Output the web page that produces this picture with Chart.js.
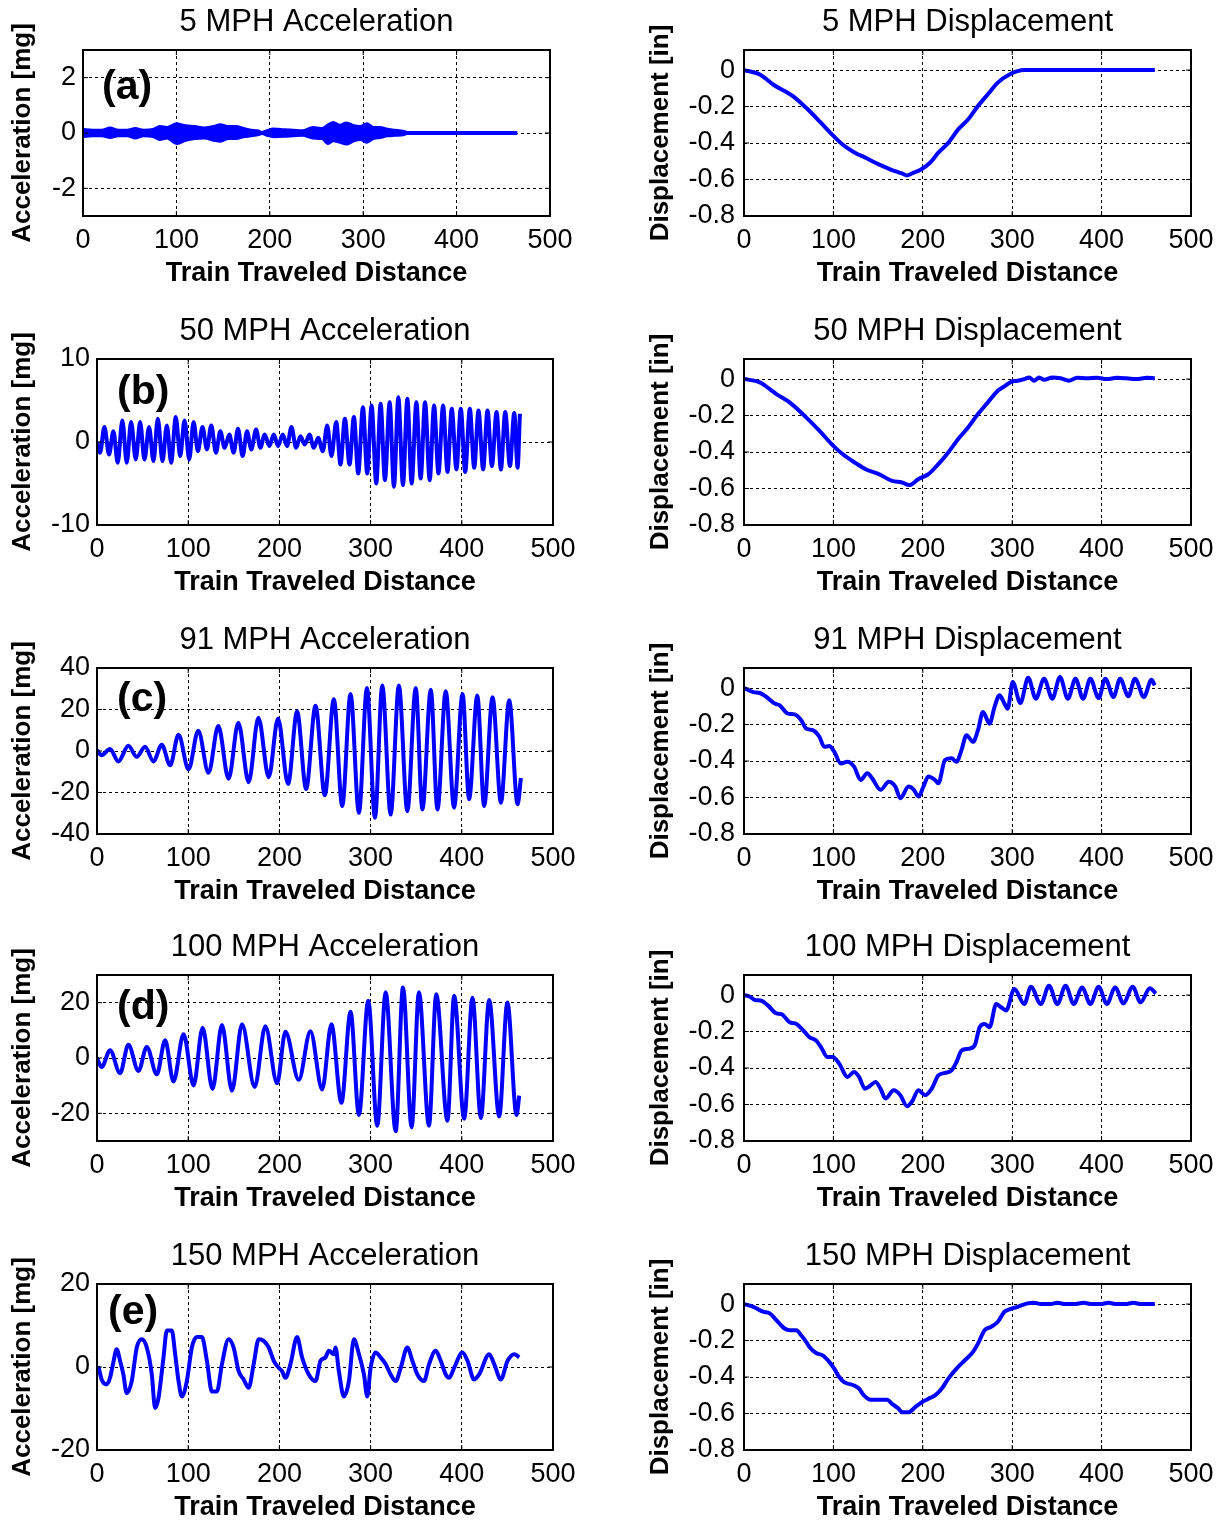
<!DOCTYPE html>
<html>
<head>
<meta charset="utf-8">
<script src="https://cdn.jsdelivr.net/npm/chart.js@4.4.0/dist/chart.umd.min.js"></script>
<style>
  html, body { margin: 0; padding: 0; background: #fff; overflow: hidden; }
  #page { position: relative; width: 1224px; height: 1521px; }
  .cell { position: absolute; width: 612px; height: 300px; }
</style>
</head>
<body>
<div id="page"></div>
<script>
// ---- tick values ----
const xTicks = [0, 100, 200, 300, 400, 500];
const dispTicks = [-0.8, -0.6, -0.4, -0.2, 0];
const acc5Ticks = [-2, 0, 2];
const acc50Ticks = [-10, 0, 10];
const acc91Ticks = [-40, -20, 0, 20, 40];
const acc100Ticks = [-20, 0, 20];
const acc150Ticks = [-20, 0, 20];

// ---- 5 MPH acceleration: dense band, kept as upper / lower envelope ----
const acc5X = [0, 10, 20, 29, 38, 47, 56, 65, 75, 82, 90, 100, 110, 120, 130, 140, 147, 156, 164, 172,
  180, 187, 192, 197, 204, 215, 225, 235, 246, 256, 262, 268, 275, 282, 290, 297, 304, 311, 318, 326,
  334, 343, 347, 465];
const acc5Upper = [0.15, 0.12, 0.12, 0.2, 0.12, 0.12, 0.18, 0.12, 0.15, 0.25, 0.22, 0.35, 0.28, 0.25, 0.2, 0.25, 0.32, 0.25, 0.25, 0.18,
  0.12, 0.1, 0.04, 0.1, 0.16, 0.14, 0.12, 0.1, 0.22, 0.18, 0.3, 0.4, 0.3, 0.38, 0.28, 0.25, 0.35, 0.22, 0.22, 0.15,
  0.12, 0.08, 0.04, 0.04];
const acc5Lower = [-0.15, -0.12, -0.12, -0.18, -0.12, -0.12, -0.2, -0.12, -0.15, -0.25, -0.2, -0.4, -0.28, -0.22, -0.2, -0.28, -0.32, -0.22, -0.22, -0.15,
  -0.12, -0.08, -0.04, -0.1, -0.15, -0.14, -0.12, -0.1, -0.2, -0.22, -0.4, -0.3, -0.35, -0.42, -0.3, -0.25, -0.35, -0.22, -0.18, -0.12,
  -0.1, -0.08, -0.04, -0.04];

// ---- 50 MPH acceleration (peaks / troughs) ----
const acc50X = [0, 3.3, 8.1, 13.2, 18.0, 22.7, 27.8, 32.6, 37.4, 42.5, 47.3, 52.0, 57.1, 61.9, 66.7, 71.8, 76.6, 81.3, 86.4, 91.2,
  96.0, 101.1, 105.9, 110.6, 115.7, 120.5, 125.3, 130.4, 135.2, 139.9, 145.1, 149.8, 154.6, 159.7, 164.5, 169.2, 174.4, 179.1, 183.9, 189.0,
  193.8, 198.5, 203.7, 208.4, 213.2, 218.3, 223.1, 227.8, 233.0, 237.7, 242.5, 247.6, 252.4, 257.1, 262.3, 267.0, 271.8, 276.9, 281.7, 286.4,
  291.6, 296.3, 301.1, 306.2, 311.0, 315.7, 320.9, 325.6, 330.4, 335.5, 340.3, 345.0, 350.2, 354.9, 359.7, 364.8, 369.6, 374.4, 379.5, 384.3,
  389.0, 394.1, 398.9, 403.7, 408.8, 413.6, 418.3, 423.4, 428.2, 433.0, 438.1, 442.9, 447.6, 452.8, 457.5, 461.2, 463.7];
const acc50Y = [0, -1.3, 1.8, -1.5, 1.3, -2.5, 2.6, -2.5, 2.4, -2.1, 2.4, -2.1, 1.8, -2.3, 2.8, -2.3, 2.0, -2.5, 3.0, -1.7,
  2.6, -2.1, 2.4, -1.1, 1.8, -0.9, 2.0, -1.3, 1.3, -0.7, 0.9, -1.3, 1.6, -1.7, 1.3, -0.9, 1.5, -0.7, 0.9, -0.5,
  0.9, -0.5, 0.9, -0.5, 1.8, -0.7, 0.7, -0.3, 0.9, -0.7, 0.5, -1.1, 2.0, -1.7, 2.4, -2.7, 2.8, -2.7, 3.0, -3.8,
  4.2, -3.8, 4.4, -5.0, 4.6, -4.6, 4.8, -5.4, 5.4, -5.2, 5.2, -5.0, 4.8, -4.4, 4.8, -4.6, 4.4, -3.8, 4.4, -3.6,
  4.0, -3.3, 4.0, -3.6, 4.0, -3.1, 3.8, -3.3, 3.8, -2.9, 3.6, -3.3, 3.6, -2.9, 3.5, -3.1, 3.4];

// ---- 91 MPH acceleration ----
const acc91X = [0, 5, 14.3, 23.4, 34.4, 43.6, 52.7, 61.9, 71, 80.2, 89.4, 100.4, 111, 122.3, 133, 144.3, 155, 166.3, 177, 188.3,
  198.5, 209.5, 219.4, 229.3, 239.6, 249.8, 259.7, 268.9, 278, 287.2, 296, 304.8, 312.8, 322, 331, 340.3, 349.5, 356.8, 366, 373.3,
  382.4, 391.5, 400.8, 408, 417, 424.5, 433.7, 442.9, 452, 461.2, 464.8];
const acc91Y = [0.5, -2, 1, -5, 2.5, -2.8, 2, -5, 3, -6.9, 7.8, -8.8, 9.8, -10.5, 12, -13.4, 13.6, -15, 16, -12.6,
  15.7, -15.9, 19, -18.3, 21.8, -21.3, 25, -26.5, 27.5, -29.8, 30.4, -32.2, 31.6, -30.6, 31.6, -29, 30.4, -28.2, 29.5, -28.2,
  28.8, -27.3, 27.5, -23.2, 26.7, -26.5, 25.9, -24.9, 24.5, -25.7, -13];

// ---- 100 MPH acceleration ----
const acc100X = [0, 5.1, 14.3, 25.3, 34.4, 45.4, 54.6, 65.6, 74.7, 83.9, 94.9, 105.9, 115.8, 126.7, 137, 148, 159, 172.9, 184.6, 197.5,
  206.6, 221.2, 234, 246.9, 257, 268, 278, 287.2, 297.4, 307.3, 316.5, 327.5, 335.5, 345, 353, 364, 372, 384.3, 391.6, 402.6,
  411.7, 420.9, 430, 441, 450, 460, 463];
const acc100Y = [0, -3.3, 2.8, -5.5, 4.8, -4.7, 4, -5.9, 6.4, -8.5, 8.6, -9.9, 10.9, -11.2, 11.9, -11.8, 12.2, -10.5, 11.5, -9.1,
  9.5, -7.9, 9.7, -11.4, 12.2, -16.2, 16.7, -20.6, 20.7, -24.5, 23.8, -26.5, 25.5, -25.1, 23.8, -24.5, 23, -22.7, 22.5, -22,
  21.8, -21.7, 21, -21.1, 20.1, -20.6, -13.6];

// ---- 150 MPH acceleration ----
const acc150X = [1.5, 5.1, 10.6, 14.3, 17.9, 21.6, 25.3, 28.9, 32.6, 38.1, 43.6, 49.1, 54.6, 60.1, 63.7, 67.4, 72.9, 76.6, 82.0, 85.7,
  89.4, 93.0, 98.5, 104.0, 109.5, 115.0, 120.5, 126.0, 131.5, 137.0, 144.3, 149.8, 155.3, 160.8, 166.3, 171.8, 177.3, 182.8, 188.3, 193.8,
  199.3, 202.9, 206.6, 212.1, 219.4, 224.9, 232.2, 239.6, 245.1, 250.5, 254.2, 259.7, 261.5, 265.2, 270.7, 276.2, 281.7, 287.2, 292.7, 296.3,
  300.0, 305.5, 311.0, 316.5, 322.0, 327.5, 333.0, 340.3, 345.8, 351.3, 358.6, 364.1, 371.4, 376.9, 382.4, 386.1, 391.6, 400.7, 406.2, 413.5,
  419.0, 430.0, 435.5, 442.8, 450.2, 457.5, 463.0];
const acc150Y = [0.2, -3.0, -4.2, -2.6, 1.1, 4.3, 1.5, -1.8, -6.3, -3.4, 4.7, 6.7, 4.7, -1.8, -9.9, -7.5, 2.3, 8.8, 8.8, 3.1,
  -3.4, -7.1, -3.4, 4.7, 7.2, 7.2, 1.5, -5.9, -5.9, 0.7, 6.7, 4.7, -1.0, -3.0, -5.0, 0.7, 6.7, 6.3, 4.7, 1.5,
  -0.2, -1.0, -2.6, 0.7, 7.2, 2.3, -1.8, -3.4, 1.5, 2.3, 3.9, 3.1, 4.7, -1.0, -7.1, -3.4, 6.7, 3.1, -1.8, -7.1,
  -0.2, 3.5, 2.3, 0.7, -1.8, -3.4, -0.2, 4.7, 1.5, -1.8, -3.4, 0.7, 3.9, 1.5, -1.8, -2.6, -0.2, 3.5, 1.5, -3.0,
  -1.8, 3.1, 0.7, -3.0, 1.5, 3.1, 2.3];

// ---- displacements ----
const disp5X = [0, 17.7, 32.5, 54.7, 69.5, 84.3, 97.2, 110.2, 123.1, 136.0, 150.8, 165.6, 176.7, 182.3, 187.8, 197, 208.1, 217.4, 228.5, 239.6,
  250.6, 261.7, 272.8, 283.9, 296.9, 313.5, 459.5];
const disp5Y = [0, -0.024, -0.079, -0.143, -0.207, -0.28, -0.347, -0.408, -0.45, -0.481, -0.517, -0.548, -0.567, -0.578, -0.567, -0.548, -0.508, -0.453, -0.399, -0.325,
  -0.271, -0.197, -0.133, -0.069, -0.024, 0, 0];

const disp50X = [0, 17.7, 28.8, 36.2, 51, 69.5, 84.3, 99.1, 110.2, 125, 136, 150.8, 165.6, 176.7, 184.8, 195.2, 206.3, 217.4, 228.5, 239.6,
  250.6, 261.7, 272.8, 283.9, 291.3, 298.7, 306.1, 313.5, 319, 324.6, 330.1, 335.7, 344.9, 354.2, 363.4, 372.6, 383.7, 394.8, 405.9, 417,
  428.1, 439.2, 450.3, 459.5];
const disp50Y = [0, -0.018, -0.055, -0.082, -0.128, -0.21, -0.283, -0.362, -0.411, -0.461, -0.494, -0.521, -0.558, -0.567, -0.581, -0.548, -0.521, -0.466, -0.402, -0.329,
  -0.265, -0.192, -0.128, -0.064, -0.04, -0.015, -0.009, 0, 0.009, -0.009, 0.009, -0.004, 0.009, 0.004, -0.009, 0.007, 0.004, 0.007, 0, 0.007,
  0.004, 0, 0.007, 0.004];

const disp91X = [0, 10.4, 17.7, 25.1, 34.4, 39.9, 49.2, 56.6, 64.0, 69.5, 76.9, 84.3, 89.8, 95.4, 100.9, 108.3, 115.7, 123.1, 130.5, 137.9,
  143.4, 152.7, 162.0, 169.3, 174.9, 184.1, 189.6, 195.2, 200.7, 206.3, 213.7, 217.4, 224.8, 232.2, 237.7, 243.3, 248.8, 256.2, 261.7, 267.3,
  274.7, 280.2, 285.8, 291.3, 295.0, 300.6, 309.1, 317.9, 326.4, 335.7, 344.9, 353.4, 362.3, 370.8, 379.3, 387.4, 396.7, 404.1, 413.3, 420.7,
  429.9, 437.3, 447.3, 455.8, 459.5];
const disp91Y = [0, -0.022, -0.027, -0.049, -0.085, -0.095, -0.14, -0.144, -0.176, -0.222, -0.231, -0.267, -0.322, -0.318, -0.349, -0.413, -0.404, -0.431, -0.504, -0.467,
  -0.495, -0.558, -0.513, -0.54, -0.604, -0.54, -0.555, -0.595, -0.54, -0.485, -0.504, -0.522, -0.395, -0.385, -0.404, -0.34, -0.258, -0.295, -0.231, -0.131,
  -0.195, -0.104, -0.04, -0.085, -0.113, 0.033, -0.082, 0.056, -0.058, 0.051, -0.058, 0.06, -0.058, 0.051, -0.058, 0.051, -0.055, 0.051, -0.049, 0.051,
  -0.045, 0.051, -0.049, 0.045, 0.015];

const disp100X = [0, 6.7, 12.2, 19.6, 27, 36.2, 41.8, 51, 58.4, 65.8, 73.2, 80.6, 86.1, 93.5, 99.1, 106.5, 115.7, 123.1, 128.7, 135.3,
  141.6, 147.1, 152.7, 158.2, 167.5, 174.9, 182.3, 187.8, 195.2, 202.6, 210, 217.4, 224.8, 232.2, 237.7, 243.3, 250.6, 258, 263.6, 269.1,
  274.7, 282.1, 287.6, 293.2, 302.4, 313.5, 320.9, 332, 341.2, 350.5, 359.7, 368.9, 378.2, 387.4, 396.7, 405.9, 415.2, 424.4, 434.8, 443.6,
  454, 460.6];
const disp100Y = [0, -0.009, -0.027, -0.031, -0.058, -0.1, -0.104, -0.149, -0.158, -0.191, -0.231, -0.249, -0.285, -0.34, -0.34, -0.376, -0.449, -0.422, -0.449, -0.513,
  -0.495, -0.476, -0.513, -0.567, -0.522, -0.549, -0.609, -0.585, -0.522, -0.549, -0.513, -0.44, -0.427, -0.413, -0.367, -0.304, -0.295, -0.276, -0.176, -0.158,
  -0.176, -0.049, -0.067, -0.085, 0.033, -0.049, 0.045, -0.049, 0.051, -0.049, 0.051, -0.049, 0.042, -0.049, 0.045, -0.049, 0.042, -0.045, 0.045, -0.04,
  0.038, 0.009];

const disp150X = [0, 10.4, 21.4, 28.8, 36.2, 45.5, 51, 58.4, 63.9, 69.5, 73.2, 80.6, 88, 95.4, 100.9, 106.5, 112, 123.1, 128.7, 134.2,
  141.6, 150.8, 160.1, 165.6, 173, 176.7, 184.1, 191.5, 198.9, 206.3, 213.7, 221.1, 228.5, 237.7, 247, 256.2, 261.7, 269.1, 276.5, 283.9,
  291.3, 296.9, 306.1, 317.2, 324.6, 332, 343.1, 350.5, 359.7, 368.9, 380, 389.2, 398.5, 407.7, 417, 426.2, 435.5, 444.7, 459.5];
const disp150Y = [0, -0.015, -0.042, -0.051, -0.088, -0.134, -0.143, -0.143, -0.171, -0.207, -0.235, -0.268, -0.281, -0.317, -0.354, -0.4, -0.428, -0.446, -0.464, -0.501,
  -0.525, -0.525, -0.525, -0.547, -0.574, -0.593, -0.593, -0.565, -0.538, -0.519, -0.501, -0.464, -0.409, -0.354, -0.308, -0.262, -0.217, -0.143, -0.125, -0.097,
  -0.042, -0.029, -0.015, 0.004, 0.007, 0, 0, 0.007, 0, 0, 0.007, 0, 0, 0.007, 0, 0, 0.007, 0, 0];

// ---- layout ----
const BLUE = '#0000ff';
const FONT = '"Liberation Sans", Arial, Helvetica, sans-serif';
const rowTop = [50, 359, 668, 975, 1284];
const CELL_W = 612, CELL_H = 300, AREA_TOP = 50;

Chart.defaults.font.family = FONT;
Chart.defaults.color = '#000';

function series(xs, ys) {
  return xs.map((x, i) => ({ x: x, y: ys[i] }));
}

const accLabel = 'Acceleration [mg]';
const dispLabel = 'Displacement [in]';

const panels = [
  { row: 0, col: 0, title: '5 MPH Acceleration', yLabel: accLabel, yMin: -3, yMax: 3, yTicks: acc5Ticks, tag: '(a)', tagDx: 19, tagDy: 38,
    datasets: [
      { data: series(acc5X, acc5Upper), fill: '+1', borderWidth: 2, backgroundColor: BLUE, tension: 0 },
      { data: series(acc5X, acc5Lower), fill: false, borderWidth: 2, tension: 0 }
    ] },
  { row: 0, col: 1, title: '5 MPH Displacement', yLabel: dispLabel, disp: true, datasets: [{ data: series(disp5X, disp5Y) }] },
  { row: 1, col: 0, title: '50 MPH Acceleration', yLabel: accLabel, yMin: -10, yMax: 10, yTicks: acc50Ticks, tag: '(b)', tagDx: 20, tagDy: 34,
    datasets: [{ data: series(acc50X, acc50Y) }] },
  { row: 1, col: 1, title: '50 MPH Displacement', yLabel: dispLabel, disp: true, datasets: [{ data: series(disp50X, disp50Y) }] },
  { row: 2, col: 0, title: '91 MPH Acceleration', yLabel: accLabel, yMin: -40, yMax: 40, yTicks: acc91Ticks, tag: '(c)', tagDx: 20, tagDy: 32,
    datasets: [{ data: series(acc91X, acc91Y) }] },
  { row: 2, col: 1, title: '91 MPH Displacement', yLabel: dispLabel, disp: true, datasets: [{ data: series(disp91X, disp91Y) }] },
  { row: 3, col: 0, title: '100 MPH Acceleration', yLabel: accLabel, yMin: -30, yMax: 30, yTicks: acc100Ticks, tag: '(d)', tagDx: 20, tagDy: 33,
    datasets: [{ data: series(acc100X, acc100Y) }] },
  { row: 3, col: 1, title: '100 MPH Displacement', yLabel: dispLabel, disp: true, datasets: [{ data: series(disp100X, disp100Y) }] },
  { row: 4, col: 0, title: '150 MPH Acceleration', yLabel: accLabel, yMin: -20, yMax: 20, yTicks: acc150Ticks, tag: '(e)', tagDx: 11, tagDy: 29,
    datasets: [{ data: series(acc150X, acc150Y) }] },
  { row: 4, col: 1, title: '150 MPH Displacement', yLabel: dispLabel, disp: true, datasets: [{ data: series(disp150X, disp150Y) }] }
];

// box around plot area plus small inward ticks, like the original axes
const framePlugin = {
  id: 'frame',
  afterDatasetsDraw(chart) {
    const { ctx, chartArea: a, scales } = chart;
    ctx.save();
    ctx.strokeStyle = '#000';
    ctx.lineWidth = 1;
    ctx.beginPath();
    scales.x.ticks.forEach(t => {
      const px = scales.x.getPixelForValue(t.value);
      ctx.moveTo(px, a.bottom); ctx.lineTo(px, a.bottom - 5);
      ctx.moveTo(px, a.top); ctx.lineTo(px, a.top + 5);
    });
    scales.y.ticks.forEach(t => {
      const py = scales.y.getPixelForValue(t.value);
      ctx.moveTo(a.left, py); ctx.lineTo(a.left + 5, py);
      ctx.moveTo(a.right, py); ctx.lineTo(a.right - 5, py);
    });
    ctx.stroke();
    ctx.lineWidth = 2;
    ctx.strokeRect(a.left, a.top, a.right - a.left, a.bottom - a.top);
    ctx.restore();
  }
};

const tagPlugin = {
  id: 'panelTag',
  afterDraw(chart, args, opts) {
    if (!opts.text) return;
    const { ctx, chartArea } = chart;
    ctx.save();
    ctx.font = 'bold 41px ' + FONT;
    ctx.fillStyle = '#000';
    ctx.textBaseline = 'middle';
    ctx.fillText(opts.text, chartArea.left + opts.dx, chartArea.top + opts.dy);
    ctx.restore();
  }
};

function makePanel(p) {
  const cellLeft = p.col * CELL_W;
  const areaLeft = p.col === 1 ? 744 : (p.row === 0 ? 83 : 97);
  const areaRight = p.col === 1 ? 1191 : (p.row === 0 ? 550 : 553);

  const cell = document.createElement('div');
  cell.className = 'cell';
  cell.style.left = cellLeft + 'px';
  cell.style.top = (rowTop[p.row] - AREA_TOP) + 'px';
  const canvas = document.createElement('canvas');
  canvas.width = CELL_W;
  canvas.height = CELL_H;
  cell.appendChild(canvas);
  document.getElementById('page').appendChild(cell);

  const yTicks = p.disp ? dispTicks : p.yTicks;
  const datasets = p.datasets.map(d => Object.assign({
    borderColor: BLUE,
    borderWidth: 4,
    pointRadius: 0,
    fill: false,
    cubicInterpolationMode: 'monotone'
  }, d));

  return new Chart(canvas.getContext('2d'), {
    type: 'line',
    data: { datasets: datasets },
    options: {
      responsive: false,
      animation: false,
      events: [],
      layout: { padding: { left: 0, right: cellLeft + CELL_W - areaRight, top: 0, bottom: 0 } },
      plugins: {
        legend: { display: false },
        tooltip: { enabled: false },
        title: {
          display: true,
          text: p.title,
          fullSize: false,
          color: '#000',
          font: { size: 31, weight: 'normal', lineHeight: 1.2 },
          padding: { top: 4, bottom: 8.8 }
        },
        panelTag: { text: p.tag, dx: p.tagDx, dy: p.tagDy }
      },
      scales: {
        x: {
          type: 'linear',
          min: 0,
          max: 500,
          afterBuildTicks: axis => { axis.ticks = xTicks.map(v => ({ value: v })); },
          afterFit: scale => { scale.height = 84; },
          grid: { color: '#000', lineWidth: 1, drawTicks: false },
          border: { display: false, dash: [3, 3] },
          ticks: { padding: 8, font: { size: 27 }, color: '#000', maxRotation: 0, autoSkip: false },
          title: {
            display: true,
            text: 'Train Traveled Distance',
            color: '#000',
            font: { size: 27, weight: 'bold' },
            padding: { top: 0, bottom: 10 }
          }
        },
        y: {
          type: 'linear',
          min: p.disp ? -0.8 : p.yMin,
          max: p.disp ? 0.11 : p.yMax,
          afterBuildTicks: axis => { axis.ticks = yTicks.map(v => ({ value: v })); },
          afterFit: scale => { scale.width = areaLeft - cellLeft; },
          grid: { color: '#000', lineWidth: 1, drawTicks: false },
          border: { display: false, dash: [3, 3] },
          ticks: {
            padding: p.col === 1 ? 9 : 7,
            font: { size: 27 },
            color: '#000',
            autoSkip: false,
            callback: v => (p.disp && v !== 0 ? v.toFixed(1) : String(v))
          },
          title: {
            display: true,
            text: p.yLabel,
            color: '#000',
            font: { size: 26, weight: 'bold' },
            padding: { top: p.col === 1 ? 33 : 7, bottom: 0 }
          }
        }
      }
    },
    plugins: [framePlugin, tagPlugin]
  });
}

panels.forEach(makePanel);
</script>
</body>
</html>
